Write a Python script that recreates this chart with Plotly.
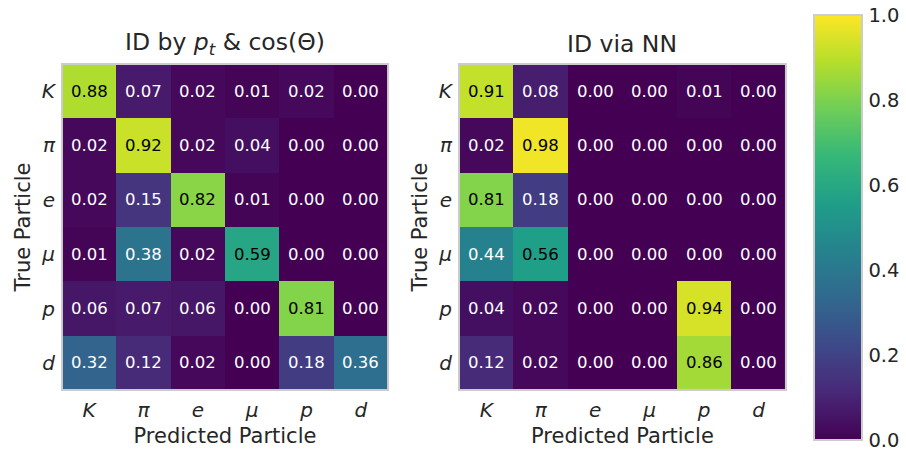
import plotly.graph_objects as go

# Particle species (rows: true, columns: predicted)
particles = ["K", "π", "e", "μ", "p", "d"]

# Confusion matrix: identification by p_t and cos(Theta)
cut_based = [
    [0.88, 0.07, 0.02, 0.01, 0.02, 0.00],
    [0.02, 0.92, 0.02, 0.04, 0.00, 0.00],
    [0.02, 0.15, 0.82, 0.01, 0.00, 0.00],
    [0.01, 0.38, 0.02, 0.59, 0.00, 0.00],
    [0.06, 0.07, 0.06, 0.00, 0.81, 0.00],
    [0.32, 0.12, 0.02, 0.00, 0.18, 0.36],
]

# Confusion matrix: identification by neural network
nn_based = [
    [0.91, 0.08, 0.00, 0.00, 0.01, 0.00],
    [0.02, 0.98, 0.00, 0.00, 0.00, 0.00],
    [0.81, 0.18, 0.00, 0.00, 0.00, 0.00],
    [0.44, 0.56, 0.00, 0.00, 0.00, 0.00],
    [0.04, 0.02, 0.00, 0.00, 0.94, 0.00],
    [0.12, 0.02, 0.00, 0.00, 0.86, 0.00],
]

titles = ["ID by <i>p</i><sub><i>t</i></sub> & cos(Θ)", "ID via NN"]
colorbar_ticks = [0.0, 0.2, 0.4, 0.6, 0.8, 1.0]

FONT = "DejaVu Sans"
TXT = "#262626"
EDGE = "#cccccc"

tick_labels = [f"<i>{p}</i>" for p in particles]

fig = go.Figure()

domains_x = [(0.0684, 0.4283), (0.5066, 0.8675)]
dom_y = (0.1466, 0.8600)

annotations = []
shapes = []
for k, (mat, (x0, x1)) in enumerate(zip([cut_based, nn_based], domains_x)):
    xa = "x" if k == 0 else "x2"
    ya = "y" if k == 0 else "y2"
    fig.add_trace(go.Heatmap(
        z=mat, x=particles, y=particles,
        colorscale="Viridis", zmin=0, zmax=1,
        xaxis=xa, yaxis=ya,
        showscale=(k == 1),
        xgap=0, ygap=0,
        colorbar=dict(
            x=814 / 906, xanchor="left", xpad=0,
            y=1 - 227.5 / 457, yanchor="middle", ypad=0,
            len=425 / 457, lenmode="fraction",
            thickness=48, thicknessmode="pixels",
            outlinecolor=EDGE, outlinewidth=2,
            tickvals=colorbar_ticks,
            ticktext=[f"{t:.1f}" for t in colorbar_ticks],
            ticks="outside", ticklen=2, tickcolor="rgba(0,0,0,0)",
            tickfont=dict(family=FONT, size=19.5, color=TXT),
        ),
    ))
    # cell value labels: dark text on bright cells, light text on dark cells
    for i, row in enumerate(mat):
        for j, v in enumerate(row):
            annotations.append(dict(
                x=particles[j], y=particles[i], xref=xa, yref=ya,
                text=f"{v:.2f}", showarrow=False,
                font=dict(family=FONT, size=16.5,
                          color="#000000" if v >= 0.5 else "#ffffff"),
            ))
    # panel title
    annotations.append(dict(
        x=(x0 + x1) / 2, y=1 - 44 / 457, xref="paper", yref="paper",
        text=titles[k], showarrow=False, xanchor="center", yanchor="middle",
        font=dict(family=FONT, size=23.5, color=TXT),
    ))
    # frame around the matrix
    shapes.append(dict(
        type="rect", xref="paper", yref="paper",
        x0=x0, x1=x1, y0=dom_y[0], y1=dom_y[1],
        line=dict(color=EDGE, width=2), layer="above",
    ))

common_axis = dict(
    showgrid=False, zeroline=False, showline=False, ticks="",
    tickfont=dict(family=FONT, size=20, color=TXT),
    tickmode="array", tickvals=particles, ticktext=tick_labels,
)

title_font = dict(family=FONT, size=21, color=TXT)

fig.update_layout(
    width=906, height=457,
    margin=dict(l=0, r=0, t=0, b=0),
    paper_bgcolor="white", plot_bgcolor="white",
    xaxis=dict(domain=domains_x[0], anchor="y", ticklabelstandoff=6,
               title=dict(text="Predicted Particle", standoff=7, font=title_font),
               **common_axis),
    yaxis=dict(domain=dom_y, anchor="x", autorange="reversed", ticklabelstandoff=6,
               title=dict(text="True Particle", standoff=4, font=title_font),
               **common_axis),
    xaxis2=dict(domain=domains_x[1], anchor="y2", ticklabelstandoff=6,
                title=dict(text="Predicted Particle", standoff=7, font=title_font),
                **common_axis),
    yaxis2=dict(domain=dom_y, anchor="x2", autorange="reversed", ticklabelstandoff=6,
                title=dict(text="True Particle", standoff=4, font=title_font),
                **common_axis),
    annotations=annotations,
    shapes=shapes,
)

fig.write_html("out.html")
